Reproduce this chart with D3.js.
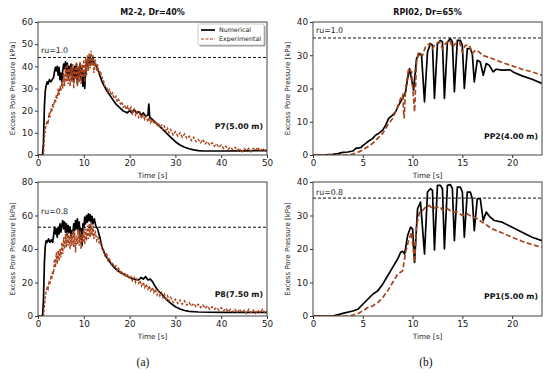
<!DOCTYPE html>
<html>
<head>
  <meta charset="utf-8" />
  <script src="https://d3js.org/d3.v7.min.js"></script>
  <style>
    body { margin: 0; background: #fff; }
    svg { font-family: "DejaVu Sans", sans-serif; }
  </style>
</head>
<body>
  <div id="chart"></div>
  <script>
    // P7 (M2-2, 5.00 m) -- [time s, excess pore pressure kPa]
    const p7Num = [[0,0],[1.0,0],[1.2,6],[1.4,22],[1.6,29],[1.8,31.5],[2.0,33],[2.2,32],[2.5,34],[2.8,33],[3.1,34],[3.4,35],[3.6,37.5],[3.8,39.5],[4.0,38],[4.2,40],[4.4,36],[4.6,39.5],[4.8,34],[5.0,37],[5.2,33],[5.4,38],[5.6,41],[5.8,39],[6.0,42],[6.2,37],[6.4,41.5],[6.6,35],[6.8,40],[7.0,36],[7.2,41],[7.4,34],[7.6,39],[7.8,33],[8.0,40],[8.2,35],[8.4,41],[8.6,32],[8.8,39],[9.0,36],[9.2,41],[9.4,34],[9.6,39],[9.8,31],[10.0,37],[10.2,30],[10.4,38],[10.6,40],[10.8,43],[11.0,40],[11.2,44],[11.4,41],[11.6,43.5],[11.8,42],[12.0,44],[12.3,41],[12.6,40.5],[13.0,39],[13.5,36],[14.0,33],[14.5,31],[15.0,29],[15.5,27.5],[16.0,26],[16.5,24.5],[17.0,23],[17.5,22],[18.0,21],[18.5,20],[19.0,19.5],[19.5,19],[20.0,20],[20.5,19],[21.0,20.5],[21.5,19],[22.0,19.5],[22.5,18],[23.0,19],[23.5,17.5],[24.0,18],[24.2,23],[24.4,17],[25.0,16],[26.0,14],[27.0,12],[28.0,10],[29.0,8],[30.0,6],[31.0,4.5],[32.0,3.5],[33.0,2.8],[34.0,2.3],[35.0,2],[36.0,1.8],[40.0,1.8],[45.0,1.9],[50.0,2]];
    const p7Exp = [[0,0],[1.2,0],[1.4,8],[1.7,13],[2.0,15.5],[2.2,14],[2.4,19],[2.6,17],[2.8,21],[3.0,19.5],[3.2,23],[3.4,21.5],[3.6,25],[3.8,23.5],[4.0,27],[4.2,25.5],[4.4,30],[4.6,27],[4.8,31],[5.0,29],[5.2,33],[5.4,30],[5.6,37],[5.8,31],[6.0,40],[6.2,33],[6.4,41],[6.6,32],[6.8,39],[7.0,31],[7.2,40],[7.4,33],[7.6,41],[7.8,30],[8.0,39],[8.2,34],[8.4,42],[8.6,31],[8.8,40],[9.0,33],[9.2,42],[9.4,32],[9.6,41],[9.8,35],[10.0,43],[10.2,33],[10.4,44],[10.6,36],[10.8,45],[11.0,38],[11.2,46],[11.4,39],[11.6,47],[11.8,40],[12.0,45],[12.2,37],[12.5,43],[12.8,38],[13.0,41],[13.3,37],[13.6,38],[14.0,35],[14.3,33.5],[14.6,31],[15.0,31],[15.3,28.5],[15.6,29.5],[16.0,27],[16.3,28],[16.6,25.5],[17.0,26.5],[17.3,24],[17.6,25],[18.0,23],[18.3,24],[18.6,21.5],[19.0,22.5],[19.3,20.5],[19.6,22],[20.0,20],[20.3,21.5],[20.6,18.5],[21.0,20.5],[21.3,18],[21.6,19.5],[22.0,17],[22.3,19],[22.6,16.5],[23.0,18],[23.3,16],[23.6,17.5],[24.0,15],[24.3,17],[24.6,14.5],[25.0,16],[25.3,14],[25.6,15.5],[26.0,13],[26.3,14.5],[26.6,12.5],[27.0,13.5],[27.3,11.5],[27.6,13],[28.0,10.5],[28.3,12],[28.6,10],[29.0,11.5],[29.5,9],[30.0,10.5],[30.5,8.5],[31.0,10],[31.5,8],[32.0,9.5],[32.5,7.5],[33.0,8.5],[33.5,6.5],[34.0,8],[34.5,6],[35.0,7],[35.5,5.5],[36.0,7],[36.5,5],[37.0,6],[37.5,4.5],[38.0,5.5],[38.5,4],[39.0,5],[39.5,3.5],[40.0,4.5],[40.5,3],[41.0,4],[41.5,2.5],[42.0,3.5],[42.5,2.5],[43.0,3.5],[43.5,2],[44.0,3],[44.5,1],[45.0,3],[45.5,2],[46.0,3],[46.5,1.5],[47.0,3],[47.5,2],[48.0,3.5],[48.5,1.5],[49.0,3],[49.5,2],[50.0,2.5]];

    // P8 (M2-2, 7.50 m)
    const p8Num = [[0,0],[1.0,0],[1.2,10],[1.4,32],[1.6,42],[1.8,45],[2.0,44],[2.3,46],[2.6,44],[2.9,45.5],[3.2,44],[3.4,48],[3.6,53],[3.8,49],[4.0,52],[4.2,47],[4.4,53],[4.6,49],[4.8,55],[5.0,50],[5.2,54],[5.4,57],[5.6,52],[5.8,56],[6.0,50],[6.2,55],[6.4,48],[6.6,54],[6.8,50],[7.0,53],[7.2,47],[7.4,51],[7.6,49],[7.8,55],[8.0,51],[8.2,57],[8.4,52],[8.6,58],[8.8,50],[9.0,56],[9.2,46],[9.4,52],[9.6,42],[9.8,55],[10.0,52],[10.2,59],[10.4,55],[10.6,60],[10.8,56],[11.0,61],[11.2,57],[11.4,60.5],[11.6,56],[11.8,59.5],[12.0,55],[12.3,58],[12.6,54],[13.0,52],[13.5,47],[14.0,41],[14.5,37.5],[15.0,35],[15.5,33],[16.0,31],[17.0,28],[18.0,26],[19.0,24.5],[20.0,23],[21.0,22],[22.0,21.5],[22.5,23],[23.0,22],[23.5,23.5],[24.0,21.5],[24.5,22],[25.0,20.5],[25.5,18],[26.0,16],[27.0,13],[28.0,10],[29.0,7.5],[30.0,5.5],[31.0,4.2],[32.0,3.3],[33.0,2.8],[35.0,2.4],[40.0,2.2],[50.0,2.2]];
    const p8Exp = [[0,0],[1.2,0],[1.4,6],[1.6,12],[1.8,15],[2.0,17],[2.2,16],[2.4,20],[2.6,19],[2.8,23],[3.0,22],[3.2,27],[3.4,25],[3.6,34],[3.8,29],[4.0,38],[4.2,31],[4.4,39],[4.6,33],[4.8,40],[5.0,35],[5.2,44],[5.4,37],[5.6,47],[5.8,40],[6.0,49],[6.2,41],[6.4,50],[6.6,42],[6.8,48],[7.0,40],[7.2,49],[7.4,42],[7.6,51],[7.8,41],[8.0,50],[8.2,38],[8.4,48],[8.6,43],[8.8,52],[9.0,42],[9.2,51],[9.4,40],[9.6,49],[9.8,44],[10.0,53],[10.2,43],[10.4,52],[10.6,45],[10.8,54],[11.0,46],[11.2,55],[11.4,47],[11.6,56],[11.8,48],[12.0,54],[12.2,46],[12.5,51],[12.8,45],[13.1,47],[13.4,43],[13.7,44],[14.0,40],[14.3,40],[14.6,36],[15.0,37],[15.3,33],[15.6,34],[16.0,31],[16.3,32],[16.6,29],[17.0,30],[17.3,27],[17.6,28.5],[18.0,26],[18.3,27],[18.6,24],[19.0,26],[19.3,23],[19.6,25],[20.0,22],[20.3,23.5],[20.6,21],[21.0,23],[21.3,20],[21.6,22],[22.0,19.5],[22.3,21],[22.6,18],[23.0,20],[23.3,17],[23.6,19],[24.0,16],[24.3,18],[24.6,15],[25.0,17],[25.3,14],[25.6,16],[26.0,12.5],[26.3,15],[26.6,12],[27.0,14],[27.3,11],[27.6,13],[28.0,10],[28.3,12],[28.6,9],[29.0,11],[29.5,8],[30.0,10],[30.5,7.5],[31.0,9.5],[31.5,7],[32.0,9],[32.5,6.5],[33.0,8],[33.5,6],[34.0,7.5],[34.5,5.5],[35.0,7],[35.5,5],[36.0,6.5],[36.5,4.5],[37.0,6],[37.5,4],[38.0,5.5],[38.5,4],[39.0,5],[39.5,3.5],[40.0,5],[40.5,3],[41.0,4.5],[41.5,2.5],[42.0,4],[42.5,2.5],[43.0,4],[43.5,2],[44.0,4],[44.5,2],[45.0,3.5],[45.5,1.5],[46.0,4],[46.5,2],[47.0,3.5],[47.5,1.5],[48.0,3.5],[48.5,2],[49.0,4],[49.5,2],[50.0,3]];

    // PP2 (RPI02, 4.00 m)
    const pp2Num = [[0,0],[1,0],[2,0.2],[2.5,0.4],[3,0.8],[3.5,0.9],[4,1.2],[4.3,2],[4.8,2.2],[5,2.8],[5.3,3.5],[5.6,4.2],[6,5],[6.3,6],[6.6,6.5],[7,7.5],[7.3,9],[7.6,11],[8,12],[8.3,13],[8.6,15],[9,17],[9.3,19],[9.5,23],[9.7,26],[10.1,19.5],[10.4,29],[10.7,30.5],[10.9,30],[11.2,16],[11.5,31],[11.8,33.5],[12.0,33],[12.2,17],[12.5,33.5],[12.8,34.5],[13.0,34],[13.2,17],[13.5,34],[13.8,35],[14.0,34],[14.2,19],[14.5,34.5],[14.8,34.5],[15.0,33],[15.2,20],[15.5,32],[15.8,32],[16.0,30.5],[16.2,22],[16.5,28.5],[16.8,28],[17.1,24],[17.4,27.5],[17.7,27],[18.1,25],[18.4,25.8],[19.0,25.5],[19.8,25.6],[20.2,24.8],[21,23.8],[22,22.8],[23,21.5]];
    const pp2Exp = [[0,0],[3.5,0],[4,0.3],[4.5,0.8],[5,1.5],[5.5,2.5],[6,3.5],[6.5,5],[7,6.5],[7.5,9],[8,11],[8.5,14.5],[8.8,17],[9.0,18],[9.15,11],[9.3,20],[9.6,26],[9.9,25],[10.2,13],[10.4,28],[10.6,31],[11.0,30],[11.3,32.5],[11.7,33.5],[12.0,32],[12.3,33.5],[12.7,34],[13.0,32],[13.3,33.5],[13.7,34.5],[14.0,32.5],[14.3,33.5],[14.7,34],[15.0,31],[15.3,33],[15.7,33],[16.0,30.5],[16.3,31.5],[16.7,31],[17.0,30],[17.5,29.5],[18,29],[19,27.8],[20,26.8],[21,25.8],[22,25],[23,24]];

    // PP1 (RPI02, 5.00 m)
    const pp1Num = [[0,0],[2,0],[3,0.8],[4,1.5],[4.5,2],[5,3.5],[5.5,5],[6,6.5],[6.5,7.5],[7,9.5],[7.5,12],[8,14.5],[8.5,17],[8.8,19],[9.0,19.3],[9.2,18.5],[9.5,24],[9.8,26.5],[10.0,26],[10.2,16],[10.5,32],[10.8,34],[11.2,18.5],[11.5,37],[11.8,38],[12.0,37.5],[12.2,19.7],[12.5,39],[12.8,39],[13.0,38],[13.2,20],[13.5,39],[13.8,39.2],[14.0,38],[14.2,22.5],[14.5,38.5],[14.8,38.5],[15.0,37],[15.2,23.5],[15.5,37],[15.8,37],[16.0,35],[16.2,25.5],[16.5,35],[16.8,35],[17.1,28.5],[17.4,31],[17.8,29.5],[18.2,28.5],[19,28],[20,26.5],[21,25],[22,23.5],[23,22.5]];
    const pp1Exp = [[0,0],[3.5,0],[4,0.3],[4.5,0.7],[5,1.5],[5.5,2.5],[6,3],[6.5,4],[7,5.5],[7.5,7.5],[8,10],[8.5,12.5],[9.0,13.5],[9.3,19],[9.6,22.5],[9.9,25],[10.2,16],[10.4,27],[10.7,31],[11.0,31.5],[11.3,32.5],[11.7,33],[12.0,32],[12.4,32.5],[12.8,32.5],[13,31.5],[13.5,32],[14,31],[14.5,31],[15,30],[15.5,30.5],[16,29.5],[16.5,29],[17,28],[17.5,27],[18,26],[19,24.8],[20,23.5],[21,22.3],[22,21.3],[23,20.5]];

    const xTicksA = [0, 10, 20, 30, 40, 50];
    const xTicksB = [0, 5, 10, 15, 20];
    const yTicksP7 = [0, 10, 20, 30, 40, 50, 60];
    const yTicksP8 = [0, 20, 40, 60, 80];
    const yTicksPP = [0, 10, 20, 30, 40];

    const width = 550, height = 373;
    const svg = d3.select("#chart").append("svg")
      .attr("width", width).attr("height", height);

    const expColor = "#a8441c";

    function drawPanel(p) {
      const x = d3.scaleLinear().domain(p.xDomain).range([p.left, p.right]);
      const y = d3.scaleLinear().domain(p.yDomain).range([p.bottom, p.top]);
      const g = svg.append("g");

      const clipId = "clip" + p.id;
      g.append("clipPath").attr("id", clipId).append("rect")
        .attr("x", p.left).attr("y", p.top)
        .attr("width", p.right - p.left).attr("height", p.bottom - p.top);

      const line = d3.line().x(d => x(d[0])).y(d => y(d[1]));
      const plot = g.append("g").attr("clip-path", `url(#${clipId})`);

      plot.append("path").datum(p.num)
        .attr("d", line).attr("fill", "none")
        .attr("stroke", "#000").attr("stroke-width", 1.7)
        .attr("stroke-linejoin", "round");
      plot.append("path").datum(p.exp)
        .attr("d", line).attr("fill", "none")
        .attr("stroke", expColor).attr("stroke-width", p.dense ? 1.4 : 1.7)
        .attr("stroke-dasharray", p.dense ? "3,1.5" : "5,2.5");

      // ru reference line
      plot.append("line")
        .attr("x1", p.left).attr("x2", p.right)
        .attr("y1", y(p.ru)).attr("y2", y(p.ru))
        .attr("stroke", "#111").attr("stroke-width", 1)
        .attr("stroke-dasharray", "3,2");
      g.append("text").attr("x", x(p.xDomain[0]) + 3).attr("y", y(p.ru) - p.ruDy)
        .attr("font-size", 7.8).attr("fill", "#222").text(p.ruLabel);

      // axes
      const xAxis = d3.axisBottom(x).tickValues(p.xTicks).tickSize(3).tickPadding(2);
      const yAxis = d3.axisLeft(y).tickValues(p.yTicks).tickSize(3).tickPadding(2);
      const gx = g.append("g").attr("transform", `translate(0,${p.bottom})`).call(xAxis);
      const gy = g.append("g").attr("transform", `translate(${p.left},0)`).call(yAxis);
      [gx, gy].forEach(a => {
        a.select(".domain").remove();
        a.selectAll("line").attr("stroke", "#333");
        a.selectAll("text").attr("font-size", 8.8).attr("fill", "#222")
          .attr("font-family", "DejaVu Sans");
      });

      g.append("rect")
        .attr("x", p.left).attr("y", p.top)
        .attr("width", p.right - p.left).attr("height", p.bottom - p.top)
        .attr("fill", "none").attr("stroke", "#444").attr("stroke-width", 1);

      const cx = (p.left + p.right) / 2;
      g.append("text").attr("x", cx).attr("y", p.bottom + 23)
        .attr("text-anchor", "middle").attr("font-size", 7.3).attr("fill", "#222")
        .text("Time [s]");
      g.append("text")
        .attr("transform", `translate(${p.left - 23},${(p.top + p.bottom) / 2}) rotate(-90)`)
        .attr("text-anchor", "middle").attr("font-size", 7).attr("fill", "#222")
        .text("Excess Pore Pressure [kPa]");

      g.append("text").attr("x", p.right - 4).attr("y", p.tagY)
        .attr("text-anchor", "end").attr("font-size", 7.8).attr("font-weight", "bold")
        .attr("fill", "#111").text(p.tag);

      if (p.title) {
        g.append("text").attr("x", cx).attr("y", p.top - 7)
          .attr("text-anchor", "middle").attr("font-size", 8).attr("font-weight", "bold")
          .attr("fill", "#111").text(p.title);
      }

      if (p.legend) {
        const lx = p.right - 69, ly = p.top + 2;
        g.append("rect").attr("x", lx + 1.5).attr("y", ly + 1.5)
          .attr("width", 66).attr("height", 21).attr("fill", "#999").attr("rx", 1.5);
        g.append("rect").attr("x", lx).attr("y", ly)
          .attr("width", 66).attr("height", 21).attr("fill", "#fff")
          .attr("stroke", "#bbb").attr("stroke-width", 0.8).attr("rx", 1.5);
        const items = [
          { name: "Numerical", color: "#000", dash: null, w: 1.7 },
          { name: "Experimental", color: expColor, dash: "3,1.5", w: 1.2 }
        ];
        items.forEach((it, i) => {
          const yy = ly + 6 + i * 9;
          g.append("line").attr("x1", lx + 3).attr("x2", lx + 17)
            .attr("y1", yy).attr("y2", yy)
            .attr("stroke", it.color).attr("stroke-width", it.w)
            .attr("stroke-dasharray", it.dash);
          g.append("text").attr("x", lx + 21).attr("y", yy + 2.3)
            .attr("font-size", 6.3).attr("fill", "#222").text(it.name);
        });
      }
    }

    drawPanel({ id: "a1", left: 38, right: 267, top: 22, bottom: 155,
      xDomain: [0, 50], yDomain: [0, 60], xTicks: xTicksA, yTicks: yTicksP7,
      num: p7Num, exp: p7Exp, dense: true, ru: 44, ruLabel: "ru=1.0", ruDy: 4.5,
      tag: "P7(5.00 m)", tagY: 129, title: "M2-2, Dr=40%", legend: true });
    drawPanel({ id: "a2", left: 38, right: 267, top: 182, bottom: 316,
      xDomain: [0, 50], yDomain: [0, 80], xTicks: xTicksA, yTicks: yTicksP8,
      num: p8Num, exp: p8Exp, dense: true, ru: 53, ruLabel: "ru=0.8", ruDy: 13,
      tag: "P8(7.50 m)", tagY: 297 });
    drawPanel({ id: "b1", left: 313, right: 542, top: 22, bottom: 155,
      xDomain: [0, 23], yDomain: [0, 40], xTicks: xTicksB, yTicks: yTicksPP,
      num: pp2Num, exp: pp2Exp, dense: false, ru: 35.2, ruLabel: "ru=1.0", ruDy: 5,
      tag: "PP2(4.00 m)", tagY: 139, title: "RPI02, Dr=65%" });
    drawPanel({ id: "b2", left: 313, right: 542, top: 182, bottom: 316,
      xDomain: [0, 23], yDomain: [0, 40], xTicks: xTicksB, yTicks: yTicksPP,
      num: pp1Num, exp: pp1Exp, dense: false, ru: 35.2, ruLabel: "ru=0.8", ruDy: 3,
      tag: "PP1(5.00 m)", tagY: 299 });

    svg.append("text").attr("x", 143).attr("y", 366).attr("text-anchor", "middle")
      .attr("font-family", "Liberation Serif, serif").attr("font-size", 11.5)
      .attr("fill", "#111").text("(a)");
    svg.append("text").attr("x", 426).attr("y", 366).attr("text-anchor", "middle")
      .attr("font-family", "Liberation Serif, serif").attr("font-size", 11.5)
      .attr("fill", "#111").text("(b)");
  </script>
</body>
</html>
